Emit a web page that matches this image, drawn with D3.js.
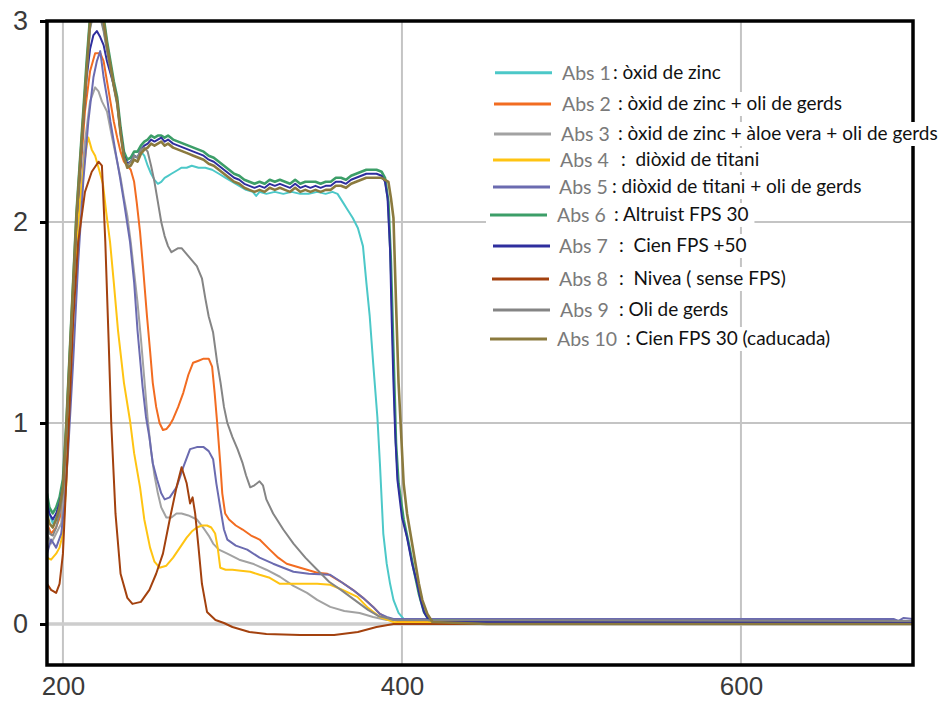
<!DOCTYPE html>
<html>
<head>
<meta charset="utf-8">
<script src="https://cdn.jsdelivr.net/npm/d3@7"></script>
<style>
body{margin:0;background:#fff;}
</style>
</head>
<body>
<div class="chart"></div>
<script>
// absorbance spectra, [wavelength nm, absorbance]
var abs1=[[190.6,0.62],[192,0.55],[194,0.5],[196,0.53],[198,0.6],[200,0.7],[202,0.98],[204,1.33],[206,1.68],[208,2.02],[210,2.27],[212,2.52],[214,2.75],[216,2.97],[218,3.05],[220,3.06],[222,3.03],[224,2.96],[226,2.86],[228,2.77],[230,2.68],[232,2.59],[234,2.45],[236,2.33],[238,2.29],[240,2.3],[242,2.33],[244,2.32],[246,2.35],[248,2.33],[250,2.28],[252,2.24],[254,2.21],[256,2.19],[258,2.2],[260,2.22],[262,2.23],[264,2.24],[266,2.25],[268,2.26],[270,2.27],[273,2.27],[276,2.28],[280,2.27],[284,2.27],[288,2.26],[292,2.24],[296,2.22],[300,2.2],[304,2.18],[308,2.16],[312,2.15],[314,2.13],[316,2.15],[320,2.14],[325,2.15],[330,2.14],[335,2.15],[340,2.14],[345,2.14],[350,2.15],[355,2.14],[359,2.15],[362,2.14],[365,2.1],[368,2.06],[371,2.02],[374,1.97],[377,1.88],[379,1.7],[381,1.53],[383,1.3],[385.5,1.03],[387,0.8],[389,0.45],[391,0.3],[393,0.2],[395,0.12],[398,0.055],[401,0.025],[702,0.015]];
var abs2=[[190.6,0.5],[193,0.45],[196,0.48],[199,0.55],[201,0.75],[204,1.25],[207,1.75],[210,2.2],[213,2.55],[216,2.75],[219,2.84],[222,2.84],[224,2.8],[226,2.7],[228,2.6],[230,2.5],[232,2.42],[234,2.35],[236,2.3],[238,2.28],[240,2.26],[242,2.2],[243.5,2.1],[245.5,1.95],[247.5,1.75],[249.6,1.53],[251.5,1.35],[253,1.2],[255,1.08],[257,1.0],[259,0.965],[261,0.97],[263,0.99],[265,1.02],[268,1.08],[271,1.15],[274,1.24],[276.8,1.3],[280,1.31],[283,1.32],[286,1.32],[288,1.28],[289.5,1.15],[291,1.0],[292.8,0.8],[294,0.65],[295.7,0.55],[298,0.52],[302,0.49],[306,0.47],[311,0.44],[316,0.42],[322,0.37],[327,0.33],[332,0.3],[338,0.285],[344,0.27],[350,0.255],[356,0.25],[364,0.21],[371,0.17],[377,0.13],[383,0.085],[387,0.05],[391,0.03],[395,0.02],[400,0.01],[702,0.01]];
var abs3=[[190.6,0.45],[193,0.4],[196,0.45],[199,0.5],[201,0.7],[204,1.2],[207,1.7],[210,2.1],[213,2.4],[216,2.6],[219,2.67],[221,2.65],[223,2.6],[226,2.55],[229,2.42],[232,2.3],[234,2.22],[236,2.12],[238,2.03],[240,1.9],[242,1.75],[244,1.6],[246,1.42],[248,1.22],[250,1.02],[252,0.86],[254,0.74],[256,0.65],[258,0.58],[261,0.53],[264,0.53],[267,0.55],[270,0.55],[274,0.54],[279,0.52],[282.7,0.48],[286,0.44],[288.6,0.4],[292,0.37],[297,0.35],[304,0.32],[312,0.3],[320,0.27],[328,0.235],[336,0.19],[344,0.155],[350,0.12],[357.7,0.085],[366,0.065],[375,0.055],[383,0.035],[391,0.02],[702,0.015]];
var abs4=[[190.6,0.33],[193,0.32],[196,0.35],[198,0.38],[200,0.45],[202,0.7],[204,1.1],[206,1.56],[208,1.9],[210,2.1],[212,2.25],[214,2.38],[215,2.42],[217,2.36],[219,2.33],[221,2.27],[223.6,2.19],[225.5,2.05],[227.8,1.9],[230,1.7],[232.5,1.46],[236,1.2],[239.6,1.01],[242,0.85],[245.5,0.68],[248,0.52],[251.4,0.38],[254,0.31],[257,0.28],[261,0.29],[265,0.33],[269,0.38],[273,0.43],[276,0.46],[279,0.48],[282,0.49],[285,0.49],[287.5,0.48],[289.8,0.45],[291.3,0.38],[292.8,0.28],[296,0.27],[300,0.27],[305,0.265],[310.5,0.26],[316,0.245],[322,0.23],[328,0.2],[340,0.2],[350,0.2],[357.7,0.195],[365,0.17],[373.7,0.135],[380,0.08],[387,0.035],[395,0.01],[702,0.005]];
var abs5=[[190.6,0.35],[193,0.42],[196,0.38],[199,0.45],[201,0.6],[203,0.85],[206,1.3],[209,1.8],[212,2.2],[215,2.5],[218,2.72],[220,2.8],[222,2.85],[224,2.72],[226,2.62],[228,2.5],[231,2.35],[233.7,2.22],[236,2.1],[239.6,1.9],[242,1.7],[244,1.46],[247,1.18],[249,1.03],[251,0.93],[253,0.8],[255.5,0.72],[258,0.65],[260,0.62],[263,0.63],[267,0.68],[271,0.78],[275,0.87],[279,0.88],[283,0.88],[286,0.86],[288.6,0.82],[290.5,0.7],[292.8,0.58],[295,0.47],[297,0.42],[302,0.39],[308.7,0.37],[316,0.33],[324,0.3],[330,0.28],[336,0.26],[345,0.25],[357.7,0.245],[364,0.21],[371,0.17],[377,0.13],[383,0.085],[387,0.05],[391,0.035],[395,0.025],[690,0.025],[693,0.015],[696,0.03],[702,0.025]];
var abs6=[[190.6,0.65],[192,0.58],[194,0.55],[196,0.58],[198,0.63],[200,0.72],[202,1.0],[204,1.35],[206,1.7],[208,2.05],[210,2.3],[212,2.55],[214,2.8],[216,3.02],[218,3.1],[220,3.12],[222,3.1],[224,3.02],[226,2.9],[228,2.8],[230,2.7],[232,2.62],[234,2.47],[236,2.35],[238,2.31],[240,2.32],[242,2.35],[244,2.35],[246,2.38],[248,2.4],[250,2.41],[252,2.43],[254,2.42],[256,2.43],[258,2.43],[260,2.42],[262,2.43],[265,2.41],[268,2.4],[271,2.39],[274,2.38],[277,2.37],[280,2.36],[283,2.35],[286,2.33],[289,2.32],[292,2.3],[295,2.28],[298,2.26],[301,2.24],[304,2.23],[307,2.21],[310,2.2],[313,2.19],[316,2.2],[319,2.19],[322,2.21],[325,2.2],[328,2.21],[331,2.2],[334,2.19],[337,2.21],[340,2.19],[343,2.2],[346,2.2],[349,2.2],[352,2.19],[355,2.2],[358,2.2],[361,2.22],[364,2.22],[367,2.21],[370,2.23],[373,2.24],[376,2.25],[379,2.26],[382,2.26],[385,2.26],[388,2.25],[390,2.22],[392,2.1],[393.5,1.8],[395,1.35],[396.5,0.9],[398,0.7],[401,0.52],[404,0.4],[407,0.27],[410,0.15],[413,0.06],[416,0.02],[450,0.012],[702,0.012]];
var abs7=[[190.6,0.6],[192,0.55],[194,0.52],[196,0.55],[198,0.6],[200,0.68],[202,0.95],[204,1.3],[206,1.65],[208,2.0],[210,2.25],[212,2.5],[214,2.72],[216,2.86],[218,2.93],[220,2.95],[222,2.92],[224,2.88],[226,2.8],[228,2.74],[230,2.68],[232,2.6],[234,2.45],[236,2.33],[238,2.29],[240,2.3],[242,2.33],[244,2.32],[246,2.36],[248,2.38],[250,2.39],[252,2.41],[254,2.4],[256,2.41],[258,2.42],[260,2.4],[262,2.41],[265,2.39],[268,2.38],[271,2.37],[274,2.36],[277,2.35],[280,2.34],[283,2.33],[286,2.31],[289,2.3],[292,2.28],[295,2.26],[298,2.24],[301,2.22],[304,2.21],[307,2.19],[310,2.18],[313,2.17],[316,2.18],[319,2.17],[322,2.19],[325,2.18],[328,2.19],[331,2.18],[334,2.17],[337,2.19],[340,2.17],[343,2.18],[346,2.17],[349,2.18],[352,2.17],[355,2.18],[358,2.18],[361,2.2],[364,2.2],[367,2.19],[370,2.21],[373,2.22],[376,2.23],[379,2.24],[382,2.24],[385,2.24],[388,2.23],[390,2.2],[391.5,2.12],[393,1.86],[394,1.5],[395,1.2],[396,0.95],[397.3,0.72],[400,0.53],[403,0.43],[406,0.3],[409,0.2],[411,0.12],[413,0.06],[415,0.03],[418,0.015],[450,0.01],[702,0.01]];
var abs8=[[190.6,0.2],[193,0.17],[196,0.155],[198,0.2],[200,0.35],[203,0.9],[206,1.5],[209,1.9],[213,2.15],[217,2.25],[221,2.3],[223,2.28],[225,1.9],[227,1.4],[228.5,1.0],[231,0.55],[234,0.25],[238,0.13],[241,0.1],[246,0.11],[251,0.17],[255,0.25],[259,0.35],[263,0.52],[267,0.68],[270,0.78],[273,0.7],[275,0.6],[276.5,0.63],[278,0.55],[280,0.38],[282,0.2],[285,0.06],[290,0.02],[295,0.005],[300,-0.015],[310,-0.04],[320,-0.05],[340,-0.055],[360,-0.055],[374,-0.04],[385,-0.015],[395,0],[702,0]];
var abs9=[[190.6,0.5],[192,0.45],[194,0.44],[196,0.48],[198,0.55],[200,0.65],[202,0.95],[204,1.3],[206,1.65],[208,2.0],[210,2.25],[212,2.5],[214,2.74],[216,2.96],[218,3.04],[220,3.05],[222,3.02],[224,2.95],[226,2.85],[228,2.76],[230,2.67],[232,2.58],[234,2.44],[236,2.32],[238,2.28],[240,2.3],[242,2.33],[244,2.32],[246,2.36],[248,2.37],[250,2.35],[252,2.28],[254,2.2],[256,2.1],[258,2.0],[260,1.93],[262,1.88],[264,1.85],[266,1.86],[268,1.87],[270,1.87],[272,1.85],[274,1.83],[276,1.81],[279,1.78],[282,1.72],[284,1.62],[286,1.53],[288.6,1.45],[291,1.3],[293,1.2],[295,1.08],[297,1.0],[300,0.93],[303,0.87],[306,0.8],[308,0.74],[310.5,0.68],[313,0.69],[316,0.71],[318,0.69],[320,0.62],[324,0.55],[330,0.47],[336,0.4],[343,0.33],[350,0.27],[357,0.21],[364,0.17],[372,0.12],[380,0.07],[386,0.04],[391,0.03],[395,0.02],[702,0.015]];
var abs10=[[190.6,0.55],[192,0.5],[194,0.48],[196,0.52],[198,0.58],[200,0.68],[202,0.98],[204,1.33],[206,1.68],[208,2.03],[210,2.28],[212,2.52],[214,2.76],[216,3.0],[218,3.08],[220,3.1],[222,3.08],[224,3.0],[226,2.88],[228,2.78],[230,2.68],[232,2.6],[234,2.44],[236,2.32],[238,2.27],[240,2.28],[242,2.31],[244,2.3],[246,2.34],[248,2.36],[250,2.37],[252,2.39],[254,2.38],[256,2.39],[258,2.4],[260,2.38],[262,2.39],[265,2.37],[268,2.36],[271,2.35],[274,2.34],[277,2.33],[280,2.32],[283,2.31],[286,2.29],[289,2.28],[292,2.26],[295,2.24],[298,2.22],[301,2.2],[304,2.19],[307,2.17],[310,2.16],[313,2.15],[316,2.16],[319,2.15],[322,2.17],[325,2.16],[328,2.17],[331,2.16],[334,2.15],[337,2.17],[340,2.15],[343,2.16],[346,2.15],[349,2.16],[352,2.15],[355,2.16],[358,2.16],[361,2.18],[364,2.18],[367,2.17],[370,2.19],[373,2.2],[376,2.21],[379,2.22],[382,2.22],[385,2.22],[388,2.22],[390,2.21],[392,2.2],[393.5,2.12],[395,2.02],[396.5,1.6],[398,1.2],[401,0.7],[403,0.55],[405,0.45],[408,0.3],[410,0.2],[412,0.12],[415,0.05],[418,0.01],[450,0],[702,0]];

var seriesNames=["Abs 1","Abs 2","Abs 3","Abs 4","Abs 5","Abs 6","Abs 7","Abs 8","Abs 9","Abs 10"];
var seriesDesc=[": òxid de zinc",": òxid de zinc + oli de gerds",": òxid de zinc + àloe vera + oli de gerds",":  diòxid de titani",": diòxid de titani + oli de gerds",": Altruist FPS 30",":  Cien FPS +50",":  Nivea ( sense FPS)",": Oli de gerds",": Cien FPS 30 (caducada)"];
var seriesColors=["#4cc8c8","#f26c21","#a2a2a2","#ffc412","#6b6bb0","#3c9e68","#2e2e9e","#a3410e","#858585","#8b7a3e"];
var xTicks=[200,400,600];
var yTicks=[0,1,2,3];

var allData=[abs1,abs2,abs3,abs4,abs5,abs6,abs7,abs8,abs9,abs10];

function drawChart(){
	var width=950,height=704;
	var mLeft=47,mRight=913,mTop=21,mBottom=665;

	var svg=d3.select('div.chart')
		.append('svg')
		.attr('width',width)
		.attr('height',height);

	var x=d3.scaleLinear().domain([190.6,701.5]).range([mLeft,mRight]);
	var y=d3.scaleLinear().domain([-0.204,3]).range([mBottom,mTop]);

	//grid
	svg.append('g').selectAll('line')
		.data(xTicks)
		.enter().append('line')
		.attr('x1',d=>x(d)).attr('x2',d=>x(d))
		.attr('y1',mTop).attr('y2',mBottom)
		.attr('stroke','#c4c4c4').attr('stroke-width',2);
	svg.append('g').selectAll('line')
		.data(yTicks.filter(d=>d<3))
		.enter().append('line')
		.attr('x1',mLeft).attr('x2',mRight)
		.attr('y1',d=>y(d)).attr('y2',d=>y(d))
		.attr('stroke',d=>d==0?'#cdcdcd':'#c4c4c4')
		.attr('stroke-width',d=>d==0?3.5:2);

	svg.append('clipPath').attr('id','plot')
		.append('rect')
		.attr('x',mLeft).attr('y',mTop)
		.attr('width',mRight-mLeft).attr('height',mBottom-mTop);

	var line=d3.line()
		.x(d=>x(d[0]))
		.y(d=>y(d[1]));

	svg.append('g')
		.attr('clip-path','url(#plot)')
		.selectAll('path')
		.data(allData)
		.enter().append('path')
		.attr('d',line)
		.attr('fill','none')
		.attr('stroke',(d,i)=>seriesColors[i])
		.attr('stroke-width',(d,i)=>(i==9||i==5)?2.6:2)
		.attr('stroke-linejoin','round');

	//axes
	var yAxis=svg.append('g')
		.attr('transform','translate('+mLeft+',0)')
		.call(d3.axisLeft(y).tickValues(yTicks).tickSize(7).tickPadding(12).tickFormat(d3.format('d')));
	yAxis.select('.domain').remove();
	yAxis.selectAll('line').attr('stroke','#000').attr('stroke-width',3);
	yAxis.selectAll('text')
		.style('font-family','"Liberation Sans", Arial, sans-serif')
		.style('font-size','27px')
		.attr('fill','#3a3a3a');

	var xAxis=svg.append('g')
		.attr('transform','translate(0,'+mBottom+')')
		.call(d3.axisBottom(x).tickValues(xTicks).tickSize(0).tickPadding(12));
	xAxis.select('.domain').remove();
	xAxis.selectAll('text')
		.style('font-family','"Liberation Sans Narrow", "Liberation Sans", sans-serif')
		.style('font-size','26px')
		.attr('fill','#3a3a3a');

	svg.append('rect')
		.attr('x',mLeft).attr('y',mTop)
		.attr('width',mRight-mLeft).attr('height',mBottom-mTop)
		.attr('fill','none')
		.attr('stroke','#000')
		.attr('stroke-width',3.5);

	//legend
	var legendRows=[
		{y:72.7,x0:495,tx:562,dx:613},
		{y:104,x0:494,tx:562,dx:618},
		{y:134,x0:494,tx:561,dx:618},
		{y:160,x0:493,tx:560,dx:621},
		{y:187,x0:493,tx:559,dx:612},
		{y:215,x0:490,tx:557,dx:614},
		{y:246,x0:493,tx:559,dx:619},
		{y:279,x0:492,tx:559,dx:619},
		{y:310,x0:493,tx:560,dx:619},
		{y:339,x0:490,tx:557,dx:626}
	];
	var leg=svg.append('g');
	legendRows.forEach(function(r,i){
		var g=leg.append('g');
		var bg=g.append('rect').attr('fill','#fff');
		g.append('line')
			.attr('x1',r.x0).attr('x2',r.x0+57)
			.attr('y1',r.y).attr('y2',r.y)
			.attr('stroke',seriesColors[i]).attr('stroke-width',3);
		g.append('text')
			.attr('x',r.tx).attr('y',r.y+7)
			.text(seriesNames[i])
			.style('font-family','Lato, sans-serif')
			.style('font-size','19.5px')
			.attr('fill','#7a7a7a');
		var t=g.append('text')
			.attr('x',r.dx).attr('y',r.y+6)
			.text(seriesDesc[i])
			.style('white-space','pre')
			.style('font-family','Lato, sans-serif')
			.style('font-size','19px')
			.attr('fill','#111');
		var end=r.dx+t.node().getComputedTextLength();
		bg.attr('x',r.x0-4).attr('y',r.y-12)
			.attr('width',end-r.x0+10).attr('height',24);
	});
}
drawChart();
</script>
</body>
</html>
